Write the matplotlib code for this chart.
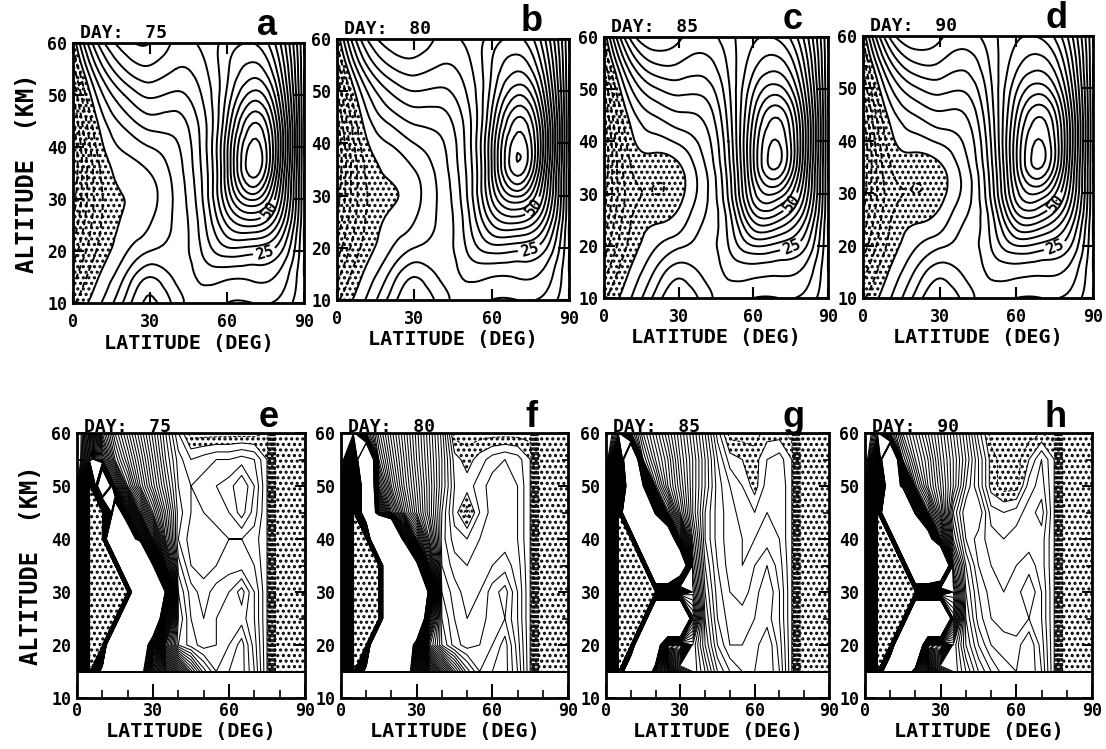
import numpy as np
import matplotlib
matplotlib.use("Agg")
import matplotlib.pyplot as plt
import matplotlib.tri as mtri
from matplotlib.ticker import MultipleLocator

# ---------------- data ----------------
days = [75, 80, 85, 90]
letters_top = ["a", "b", "c", "d"]
letters_bot = ["e", "f", "g", "h"]
xtick_vals = [0, 30, 60, 90]
ytick_vals = [10, 20, 30, 40, 50, 60]
label_levels = [25, 50]

# top row: zonal wind field, latitude 0..90 step 10, altitude 60..10 step 5
lat_top = [0, 10, 20, 30, 40, 50, 60, 70, 80, 90]
alt_top = [60, 55, 50, 45, 40, 35, 30, 25, 20, 15, 10]

wind_day75 = [
    [-4, 26, 38, 40, 34, 36, 42, 45, 32, 0],
    [-12, 16, 30, 34, 30, 33, 44, 52, 38, 0],
    [-20, 7, 20, 26, 24, 30, 46, 62, 45, 0],
    [-26, 1, 12, 18, 18, 27, 50, 74, 52, 0],
    [-30, -3, 6, 10, 14, 26, 54, 82, 55, 0],
    [-30, -6, 2, 5, 12, 25, 54, 82, 52, 0],
    [-28, -7, 0, 3, 11, 24, 50, 66, 45, 0],
    [-24, -6, 1, 5, 11, 22, 40, 46, 34, 0],
    [-18, -4, 4, 10, 12, 20, 28, 27, 22, 0],
    [-12, 0, 10, 20, 14, 16, 16, 16, 14, 0],
    [-6, 4, 16, 26, 18, 12, 10, 10, 9, 0],
]
wind_day80 = [
    [-4, 27, 38, 39, 34, 36, 42, 46, 32, 0],
    [-12, 17, 30, 33, 30, 33, 45, 53, 38, 0],
    [-20, 7, 20, 25, 24, 30, 47, 63, 45, 0],
    [-26, 1, 12, 17, 18, 27, 51, 75, 52, 0],
    [-30, -3, 5, 10, 14, 26, 55, 83, 55, 0],
    [-30, -6, 1, 5, 12, 25, 55, 83, 52, 0],
    [-28, -7, -1, 3, 11, 24, 51, 66, 45, 0],
    [-24, -6, 1, 5, 11, 22, 41, 46, 34, 0],
    [-18, -4, 4, 10, 12, 20, 28, 27, 22, 0],
    [-12, 0, 10, 19, 14, 16, 16, 16, 14, 0],
    [-6, 4, 16, 24, 18, 12, 10, 10, 9, 0],
]
wind_day85 = [
    [-4, 30, 40, 36, 33, 38, 44, 44, 30, 0],
    [-12, 18, 30, 30, 28, 36, 48, 52, 36, 0],
    [-20, 8, 19, 22, 22, 34, 54, 62, 42, 0],
    [-26, 1, 10, 14, 16, 32, 60, 74, 48, 0],
    [-30, -3, 3, 6, 12, 30, 64, 80, 50, 0],
    [-30, -6, -3, -1, 9, 28, 64, 80, 48, 0],
    [-28, -8, -5, -2, 8, 26, 58, 64, 42, 0],
    [-24, -6, -1, 2, 10, 22, 46, 46, 32, 0],
    [-18, -4, 4, 9, 12, 20, 30, 28, 22, 0],
    [-12, 0, 10, 18, 14, 16, 17, 16, 14, 0],
    [-6, 4, 16, 24, 18, 12, 10, 10, 9, 0],
]
wind_day90 = [
    [-4, 30, 40, 36, 33, 38, 44, 44, 30, 0],
    [-12, 18, 30, 30, 27, 36, 48, 52, 36, 0],
    [-20, 8, 19, 22, 21, 34, 54, 62, 42, 0],
    [-26, 1, 10, 14, 15, 32, 60, 74, 48, 0],
    [-30, -3, 3, 6, 11, 30, 64, 80, 50, 0],
    [-30, -6, -3, -1, 8, 28, 64, 80, 48, 0],
    [-28, -8, -5, -2, 7, 26, 58, 64, 42, 0],
    [-24, -6, -1, 2, 10, 22, 46, 46, 32, 0],
    [-18, -4, 4, 9, 12, 20, 30, 28, 22, 0],
    [-12, 0, 10, 18, 14, 16, 17, 16, 14, 0],
    [-6, 4, 16, 24, 18, 12, 10, 10, 9, 0],
]

# bottom row: latitude 0..90 step 5, altitude 60..15 step 5
lat_bot = [0, 5, 10, 15, 20, 25, 30, 35, 40, 45, 50, 55, 60, 65, 70, 75, 80, 85, 90]
alt_bot = [60, 55, 50, 45, 40, 35, 30, 25, 20, 15]

index_day75 = [
    [130, 100, 60, 46, 37, 28, 19, 10, 2, -3, -3, -3, -3, -3, -3, -2, -30, -30, -30],
    [130, 95, 72, 52, 42, 32, 22, 12, 5, 2, 3, 4, 4, 5, 4, 0, -30, -30, -30],
    [130, -8, 200, 75, 50, 36, 25, 15, 6, 4, 5, 6, 7, 10, 6, 0, -30, -30, -30],
    [130, -8, -8, 150, 90, 55, 34, 20, 7, 4, 4, 5, 6, 9, 5, 0, -30, -30, -30],
    [130, -8, -8, 400, 160, 95, 55, 24, 6, 3, 3, 3, 4, 4, 3, 0, -30, -30, -30],
    [130, -8, -8, -8, 400, 400, 120, 40, 9, 4, 3, 4, 5, 5, 4, 0, -30, -30, -30],
    [130, -8, -8, -8, -8, 400, 400, 110, 12, 7, 5, 7, 8, 11, 6, 0, -30, -30, -30],
    [130, -8, -8, -8, 400, 400, 200, 55, 14, 8, 6, 8, 9, 9, 6, 0, -30, -30, -30],
    [130, -8, -8, 400, 400, 180, 80, 30, 12, 9, 7, 8, 10, 13, 7, 0, -30, -30, -30],
    [130, -8, 150, 400, 250, 130, 90, 60, 40, 25, 15, 10, 12, 13, 8, 0, -30, -30, -30],
]
index_day80 = [
    [130, 120, 70, 55, 45, 36, 27, 18, 9, -3, -3, -3, -3, -3, -3, -3, -30, -30, -30],
    [130, 80, 200, 60, 48, 38, 28, 19, 10, 1, -1, 1, 3, 4, 3, 0, -30, -30, -30],
    [130, -8, 200, 70, 52, 40, 30, 20, 10, 2, 1, 3, 5, 6, 4, 0, -30, -30, -30],
    [130, -8, 200, 90, 62, 45, 32, 20, 8, 1, -3, 2, 5, 6, 4, 0, -30, -30, -30],
    [130, -8, -8, 400, 300, 90, 50, 26, 7, 3, 2, 4, 5, 5, 4, 0, -30, -30, -30],
    [130, -8, -8, -8, 400, 400, 130, 40, 8, 5, 4, 5, 6, 7, 5, 0, -30, -30, -30],
    [130, -8, -8, -8, 400, 400, 400, 90, 10, 7, 5, 6, 9, 11, 6, 0, -30, -30, -30],
    [130, -8, -8, -8, 400, 400, 250, 40, 12, 8, 6, 7, 9, 10, 6, 0, -30, -30, -30],
    [130, -8, -8, 400, 400, 200, 90, 25, 14, 9, 7, 8, 10, 13, 7, 0, -30, -30, -30],
    [130, -8, 150, 400, 250, 140, 100, 60, 40, 25, 15, 10, 12, 13, 8, 0, -30, -30, -30],
]
index_day85 = [
    [130, 110, 65, 52, 44, 36, 28, 20, 12, 3, -3, -3, -3, -1, -1, -3, -30, -30, -30],
    [130, 60, 200, 58, 48, 40, 30, 22, 14, 6, 1, 0, -1, 2, 3, 0, -30, -30, -30],
    [130, -8, 200, 120, 55, 42, 32, 22, 14, 7, 4, 2, -1, 3, 4, 0, -30, -30, -30],
    [130, -8, 400, 400, 100, 55, 36, 22, 12, 7, 5, 3, 2, 4, 4, 0, -30, -30, -30],
    [130, -8, -8, 400, 400, 180, 60, 26, 12, 7, 5, 4, 4, 5, 4, 0, -30, -30, -30],
    [130, -8, -8, -8, 400, 400, 200, 30, 14, 8, 5, 4, 6, 8, 5, 0, -30, -30, -30],
    [130, -8, -8, -8, -8, -8, -8, 35, 16, 9, 6, 5, 7, 10, 6, 0, -30, -30, -30],
    [130, -8, -8, -8, 400, 400, 400, 45, 18, 10, 7, 7, 8, 9, 6, 0, -30, -30, -30],
    [130, -8, -8, 400, 200, -8, -8, 30, 20, 12, 8, 8, 9, 12, 7, 0, -30, -30, -30],
    [130, -8, 300, 200, 90, 60, 40, 30, 24, 16, 12, 10, 10, 12, 8, 0, -30, -30, -30],
]
index_day90 = [
    [130, 110, 66, 52, 44, 36, 28, 20, 12, 3, -3, -3, -3, -3, -2, -3, -30, -30, -30],
    [130, 80, 200, 60, 48, 40, 30, 22, 14, 6, -1, -3, -3, 0, 4, 0, -30, -30, -30],
    [130, -8, 200, 100, 55, 42, 32, 22, 12, 6, -1, -3, -3, 3, 5, 0, -30, -30, -30],
    [130, -8, 400, 400, 100, 55, 36, 16, 8, 10, 3, 2, 3, 5, 7, 0, -30, -30, -30],
    [130, -8, -8, 400, 400, 150, 50, 20, 10, 7, 5, 4, 5, 5, 5, 0, -30, -30, -30],
    [130, -8, -8, -8, 400, 400, 300, 30, 14, 8, 6, 5, 6, 7, 5, 0, -30, -30, -30],
    [130, -8, -8, -8, -8, -8, -8, 40, 16, 10, 7, 6, 7, 10, 6, 0, -30, -30, -30],
    [130, -8, -8, -8, 400, 400, 400, 50, 18, 11, 8, 7, 6, 8, 6, 0, -30, -30, -30],
    [130, -8, -8, 400, 300, -8, -8, 30, 20, 14, 10, 9, 9, 12, 7, 0, -30, -30, -30],
    [130, -8, 300, 200, 90, 60, 40, 30, 24, 18, 14, 11, 10, 12, 8, 0, -30, -30, -30],
]

top_fields = [wind_day75, wind_day80, wind_day85, wind_day90]
bot_fields = [index_day75, index_day80, index_day85, index_day90]

# ---------------- style / layout ----------------
W, H = 1106, 749
plt.rcParams["hatch.color"] = "black"
plt.rcParams["hatch.linewidth"] = 1.5
MONO = "DejaVu Sans Mono"
NEG_DASH = (0, (3.0, 1.6))

fig = plt.figure(figsize=(W / 100, H / 100), dpi=100)

# axes rectangles in pixels (x0, x1, ytop, ybottom)
top_px = [(73, 304, 43, 303), (337, 569, 39, 300), (604, 828, 37, 298), (863, 1093, 36, 298)]
bot_px = [(77, 305, 433, 698), (341, 568, 433, 698), (606, 829, 433, 698), (865, 1092, 433, 698)]
label_spots = [(74, 21), (73, 29)]


def make_ax(px):
    x0, x1, yt, yb = px
    return fig.add_axes([x0 / W, 1 - yb / H, (x1 - x0) / W, (yb - yt) / H])


def frame(ax, day, letter, bottom_row):
    ax.set_xlim(0, 90)
    ax.set_ylim(10, 60)
    ax.set_xticks(xtick_vals)
    ax.set_yticks(ytick_vals)
    for s in ax.spines.values():
        s.set_linewidth(2.0)
    if bottom_row:
        ax.xaxis.set_minor_locator(MultipleLocator(10))
        ax.yaxis.set_minor_locator(MultipleLocator(5))
        ax.tick_params(axis="x", which="major", direction="in", length=10, width=1.4,
                       top=False, bottom=True, pad=3)
        ax.tick_params(axis="x", which="minor", direction="in", length=6, width=1.2,
                       top=False, bottom=True)
        ax.tick_params(axis="y", which="major", direction="in", length=7, width=1.4,
                       left=True, right=True, pad=4)
        ax.tick_params(axis="y", which="minor", direction="in", length=4, width=1.2,
                       left=True, right=True)
    else:
        ax.tick_params(axis="both", which="major", direction="in", length=8, width=1.5,
                       top=True, right=True)
        ax.tick_params(axis="x", pad=7)
        ax.tick_params(axis="y", pad=4)
    for lab in ax.get_xticklabels() + ax.get_yticklabels():
        lab.set_fontfamily(MONO)
        lab.set_fontweight("bold")
        lab.set_fontsize(12)
    ax.text(0.03, 1.005 if bottom_row else 1.019, "DAY:  %d" % day, transform=ax.transAxes,
            fontfamily=MONO, fontweight="bold", fontsize=13, ha="left", va="baseline")
    ax.text(0.84, 1.022 if bottom_row else 1.03, letter, transform=ax.transAxes,
            fontfamily="Liberation Sans", fontweight="bold", fontsize=26,
            ha="center", va="baseline")
    ax.set_xlabel("LATITUDE (DEG)", fontfamily=MONO, fontweight="bold", fontsize=14.5,
                  labelpad=1 if bottom_row else 2)


# ---------------- top row ----------------
top_levels = [v for v in np.arange(-40, 101, 5) if v not in label_levels]
for i, (px, fld) in enumerate(zip(top_px, top_fields)):
    ax = make_ax(px)
    LA, AL = np.meshgrid(lat_top, alt_top)
    Z = np.array(fld, dtype=float)
    tri = mtri.Triangulation(LA.ravel(), AL.ravel())
    refiner = mtri.UniformTriRefiner(tri)
    tri_f, z_f = refiner.refine_field(Z.ravel(), subdiv=3)
    ax.tricontourf(tri_f, z_f, levels=[-1000, 0], colors="none", hatches=["..."])
    ax.tricontour(tri_f, z_f, levels=top_levels, colors="black", linewidths=1.4,
                  negative_linestyles=NEG_DASH)
    cl = ax.tricontour(tri_f, z_f, levels=label_levels, colors="black", linewidths=1.4)
    labs = ax.clabel(cl, manual=label_spots, fmt="%d", fontsize=11, inline=True,
                     inline_spacing=2)
    for t in labs:
        t.set_fontfamily(MONO)
        t.set_fontweight("bold")
    frame(ax, days[i], letters_top[i], False)
    if i == 0:
        ax.set_ylabel("ALTITUDE  (KM)", fontfamily=MONO, fontweight="bold", fontsize=17,
                      labelpad=6)

# ---------------- bottom row ----------------
bot_levels = np.arange(-20, 121, 2)
for i, (px, fld) in enumerate(zip(bot_px, bot_fields)):
    ax = make_ax(px)
    Z = np.array(fld, dtype=float)
    ax.contourf(lat_bot, alt_bot, Z, levels=[-1000, 0], colors="none", hatches=["..."])
    ax.contour(lat_bot, alt_bot, Z, levels=bot_levels, colors="black", linewidths=0.75,
               negative_linestyles=NEG_DASH)
    ax.axhline(15, color="black", linewidth=1.4)
    frame(ax, days[i], letters_bot[i], True)
    if i == 0:
        ax.set_ylabel("ALTITUDE  (KM)", fontfamily=MONO, fontweight="bold", fontsize=17,
                      labelpad=6)

fig.savefig("out.png", dpi=100, facecolor="white")
